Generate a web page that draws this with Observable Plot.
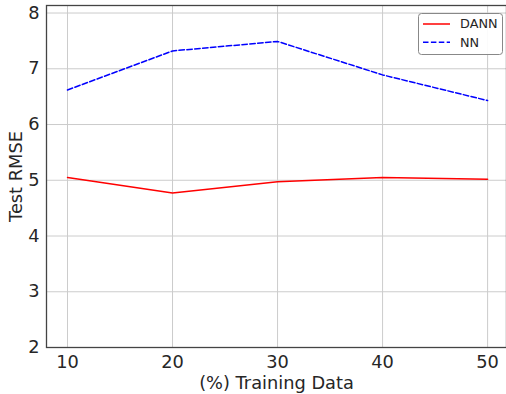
<!DOCTYPE html>
<html>
<head>
<meta charset="utf-8">
<script src="https://cdn.jsdelivr.net/npm/d3@7"></script>
<script src="https://cdn.jsdelivr.net/npm/@observablehq/plot@0.6"></script>
<style>
  html, body { margin: 0; padding: 0; background: #fff; }
  #chart { width: 506px; height: 394px; }
</style>
</head>
<body>
<div id="chart"></div>
<script>
const trainingPct = [10, 20, 30, 40, 50];
const dannRmse = [5.05, 4.77, 4.975, 5.05, 5.02];
const nnRmse = [6.62, 7.32, 7.49, 6.89, 6.43];
const seriesNames = ["DANN", "NN"];
const xTicks = [10, 20, 30, 40, 50];
const yTicks = [2, 3, 4, 5, 6, 7, 8];

const dannData = trainingPct.map((x, i) => ({x, y: dannRmse[i]}));
const nnData = trainingPct.map((x, i) => ({x, y: nnRmse[i]}));

const plot = Plot.plot({
  width: 506,
  height: 394,
  marginLeft: 46,
  marginRight: 0,
  marginTop: 5,
  marginBottom: 47,
  style: {fontFamily: "DejaVu Sans", fontSize: "17.8px", color: "#262626", background: "#fff"},
  x: {domain: [8, 51.8]},
  y: {domain: [2, 8.135]},
  marks: [
    Plot.gridX(xTicks, {stroke: "#cccccc", strokeOpacity: 1, strokeWidth: 1}),
    Plot.gridY(yTicks, {stroke: "#cccccc", strokeOpacity: 1, strokeWidth: 1}),
    Plot.axisX(xTicks, {tickSize: 0, tickPadding: 8, tickFormat: d => String(d), label: "(%) Training Data", labelAnchor: "center", labelArrow: "none", labelOffset: 41, fontSize: 17.8}),
    Plot.axisY(yTicks, {tickSize: 0, tickPadding: 7, tickFormat: d => String(d), label: "Test RMSE", labelAnchor: "center", labelArrow: "none", labelOffset: 37.5, fontSize: 17.8}),
    Plot.frame({stroke: "#444", strokeWidth: 1.3}),
    Plot.line(dannData, {x: "x", y: "y", stroke: "#ff0000", strokeWidth: 1.5}),
    Plot.line(nnData, {x: "x", y: "y", stroke: "#0000ff", strokeWidth: 1.5, strokeDasharray: "5.5,2.4"})
  ]
});
document.getElementById("chart").appendChild(plot);

// legend
const svg = d3.select(plot);
const lg = svg.append("g").attr("font-family", "DejaVu Sans").attr("font-size", 12.8)
  .attr("fill", "#262626").attr("text-anchor", "start");
lg.append("rect").attr("x", 418.5).attr("y", 13.5).attr("width", 84).attr("height", 41)
  .attr("rx", 3).attr("fill", "#fff").attr("fill-opacity", 0.9).attr("stroke", "#888").attr("stroke-width", 1);
const colors = ["#ff0000", "#0000ff"];
const dashes = [null, "5.5,2.4"];
seriesNames.forEach((name, i) => {
  const yy = 24 + i * 18.3;
  lg.append("line").attr("x1", 423).attr("x2", 450).attr("y1", yy).attr("y2", yy)
    .attr("stroke", colors[i]).attr("stroke-width", 1.5).attr("stroke-dasharray", dashes[i]);
  lg.append("text").attr("x", 460).attr("y", yy).attr("dy", "0.35em").text(name);
});
</script>
</body>
</html>
